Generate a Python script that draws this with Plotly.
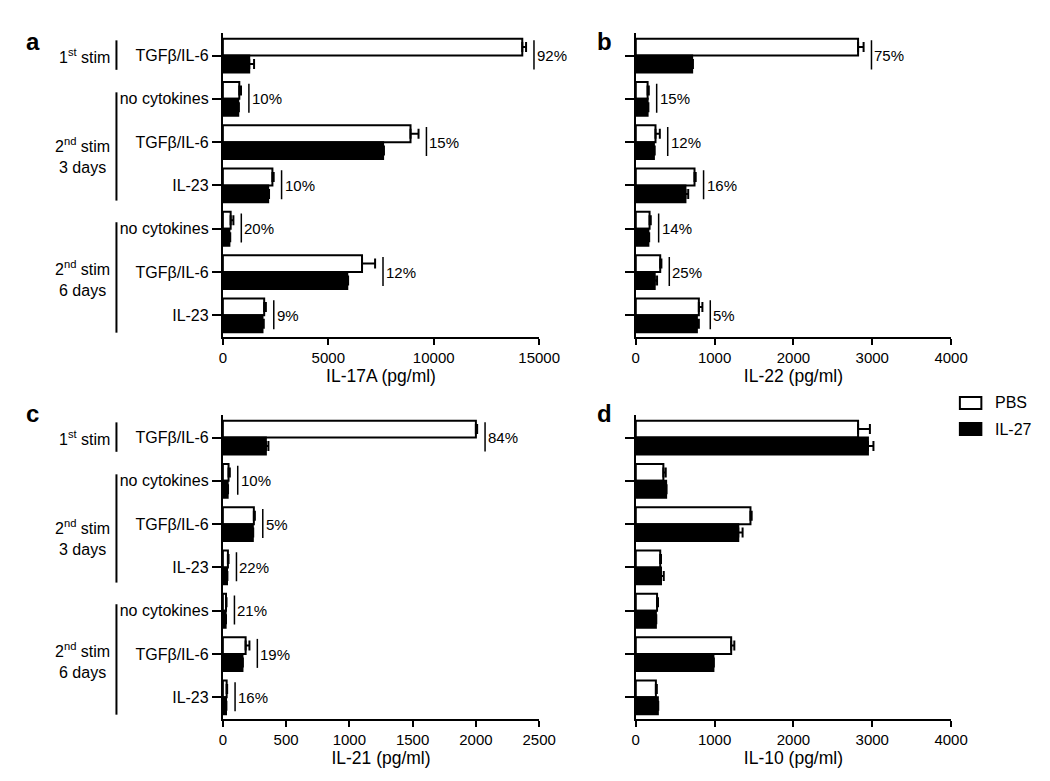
import plotly.graph_objects as go

# ---------------- data ----------------
groups = [0, 1, 2, 3, 4, 5, 6]
cat_labels = ["TGFβ/IL-6", "no cytokines", "TGFβ/IL-6", "IL-23",
              "no cytokines", "TGFβ/IL-6", "IL-23"]

# a: IL-17A
pbs_a = [14200, 780, 8900, 2350, 370, 6600, 1960]
pbs_a_err = [180, 80, 380, 60, 130, 620, 80]
il27_a = [1250, 730, 7600, 2150, 310, 5900, 1880]
il27_a_err = [230, 30, 40, 40, 40, 40, 60]
pct_a = ["92%", "10%", "15%", "10%", "20%", "12%", "9%"]

# b: IL-22
pbs_b = [2820, 150, 250, 745, 175, 310, 800]
pbs_b_err = [70, 15, 55, 15, 15, 15, 45]
il27_b = [715, 150, 230, 630, 160, 240, 775]
il27_b_err = [10, 10, 10, 35, 10, 30, 25]
pct_b = ["75%", "15%", "12%", "16%", "14%", "25%", "5%"]

# c: IL-21
pbs_c = [2000, 45, 245, 40, 25, 180, 30]
pbs_c_err = [10, 10, 8, 5, 4, 30, 4]
il27_c = [340, 38, 237, 33, 22, 155, 25]
il27_c_err = [20, 3, 3, 3, 3, 3, 3]
pct_c = ["84%", "10%", "5%", "22%", "21%", "19%", "16%"]

# d: IL-10
pbs_d = [2820, 350, 1455, 310, 270, 1210, 255]
pbs_d_err = [150, 30, 15, 10, 12, 40, 12]
il27_d = [2945, 385, 1300, 320, 255, 985, 280]
il27_d_err = [70, 5, 55, 35, 5, 5, 5]

x_titles = ["IL-17A (pg/ml)", "IL-22 (pg/ml)", "IL-21 (pg/ml)", "IL-10 (pg/ml)"]
x_tickvals = [[0, 5000, 10000, 15000], [0, 1000, 2000, 3000, 4000],
              [0, 500, 1000, 1500, 2000, 2500], [0, 1000, 2000, 3000, 4000]]
panel_letters = ["a", "b", "c", "d"]

bracket_text = ["1<sup>st</sup> stim", "2<sup>nd</sup> stim<br>3 days", "2<sup>nd</sup> stim<br>6 days"]
bracket_span = [(-0.35, 0.33), (0.85, 3.35), (3.85, 6.4)]
bracket_label_y = [0, 2.3, 5.15]

# ---------------- layout helpers ----------------
W, H = 1050, 781
FONT = "Arial, Liberation Sans, sans-serif"


def fx(p):
    return p / W


def fy(p):
    return 1 - p / H


x_domains = [[fx(216), fx(540)], [fx(639), fx(962)], [fx(216), fx(540)], [fx(639), fx(962)]]
y_domains = [[fy(329), fy(25)], [fy(329), fy(25)], [fy(711), fy(407)], [fy(711), fy(407)]]

panels = [
    (pbs_a, pbs_a_err, il27_a, il27_a_err, pct_a),
    (pbs_b, pbs_b_err, il27_b, il27_b_err, pct_b),
    (pbs_c, pbs_c_err, il27_c, il27_c_err, pct_c),
    (pbs_d, pbs_d_err, il27_d, il27_d_err, None),
]

fig = go.Figure()
shapes = []
annotations = []
layout_axes = {}

for k, (pbs, pbs_err, il27, il27_err, pct) in enumerate(panels):
    sfx = "" if k == 0 else str(k + 1)
    xa, ya = "x" + sfx, "y" + sfx
    x_max = x_tickvals[k][-1]
    fig.add_trace(go.Bar(
        y=groups, x=pbs, orientation="h", xaxis=xa, yaxis=ya, name="PBS",
        showlegend=False, offsetgroup="pbs",
        marker=dict(color="white", line=dict(color="black", width=2)),
        error_x=dict(type="data", array=pbs_err, arrayminus=[0] * 7, symmetric=False,
                     color="black", thickness=2, width=5),
    ))
    fig.add_trace(go.Bar(
        y=groups, x=il27, orientation="h", xaxis=xa, yaxis=ya, name="IL-27",
        showlegend=False, offsetgroup="il27",
        marker=dict(color="black", line=dict(color="black", width=2)),
        error_x=dict(type="data", array=il27_err, arrayminus=[0] * 7, symmetric=False,
                     color="black", thickness=2, width=5),
    ))

    layout_axes["xaxis" + sfx] = dict(
        domain=x_domains[k], anchor=ya, range=[0, x_max],
        tickvals=x_tickvals[k], ticktext=[str(v) for v in x_tickvals[k]],
        showline=True, linecolor="black", linewidth=2,
        ticks="outside", ticklen=6, tickwidth=2, tickcolor="black",
        showgrid=False, zeroline=False,
        tickfont=dict(size=15, color="black", family=FONT),
        title=dict(text=x_titles[k], font=dict(size=17.5, color="black", family=FONT), standoff=5),
    )
    yax = dict(
        domain=y_domains[k], anchor=xa, range=[6.5, -0.52],
        tickvals=groups,
        showline=True, linecolor="black", linewidth=2,
        ticks="outside", ticklen=9, tickwidth=2, tickcolor="black",
        showgrid=False, zeroline=False,
        tickfont=dict(size=16, color="black", family=FONT),
    )
    if k in (0, 2):
        yax["ticktext"] = cat_labels
    else:
        yax["showticklabels"] = False
    layout_axes["yaxis" + sfx] = yax

    # percentage markers
    if pct is not None:
        for i in groups:
            lx = max(pbs[i] + pbs_err[i], il27[i] + il27_err[i]) + 0.025 * x_max
            shapes.append(dict(type="line", xref=xa, yref=ya, x0=lx, x1=lx,
                               y0=i - 0.35, y1=i + 0.32,
                               line=dict(color="black", width=1.5)))
            annotations.append(dict(xref=xa, yref=ya, x=lx, y=i, text=pct[i],
                                    xanchor="left", yanchor="middle", xshift=1, showarrow=False,
                                    font=dict(size=15, color="black", family=FONT)))

    # left brackets for panels a and c
    if k in (0, 2):
        for (y0, y1), txt, ly in zip(bracket_span, bracket_text, bracket_label_y):
            shapes.append(dict(type="line", xref="paper", yref=ya, x0=fx(107), x1=fx(107),
                               y0=y0, y1=y1, line=dict(color="black", width=2)))
            annotations.append(dict(xref="paper", yref=ya, x=fx(102), y=ly, text=txt,
                                    xanchor="right", yanchor="middle", align="center",
                                    showarrow=False,
                                    font=dict(size=16, color="black", family=FONT)))

# panel letters
letter_pos = [(12, 34), (597, 34), (12, 405), (597, 405)]
for letter, (px, py) in zip(panel_letters, letter_pos):
    annotations.append(dict(xref="paper", yref="paper", x=fx(px), y=fy(py), text="<b>" + letter + "</b>",
                            xanchor="left", yanchor="middle", showarrow=False,
                            font=dict(size=24, color="black", family=FONT)))

# manual legend
legend_items = [("PBS", "white", 395), ("IL-27", "black", 421)]
for name, col, cy in legend_items:
    shapes.append(dict(type="rect", xref="paper", yref="paper",
                       x0=fx(971), x1=fx(993), y0=fy(cy - 6), y1=fy(cy + 6),
                       fillcolor=col, line=dict(color="black", width=2)))
    annotations.append(dict(xref="paper", yref="paper", x=fx(1005), y=fy(cy), text=name,
                            xanchor="left", yanchor="middle", showarrow=False,
                            font=dict(size=16, color="black", family=FONT)))

fig.update_layout(
    width=W, height=H, margin=dict(l=0, r=0, t=0, b=0),
    paper_bgcolor="white", plot_bgcolor="white",
    barmode="group", bargap=0.22, bargroupgap=0,
    font=dict(family=FONT, color="black"),
    shapes=shapes, annotations=annotations, showlegend=False,
    **layout_axes,
)

fig.write_html("out.html")
